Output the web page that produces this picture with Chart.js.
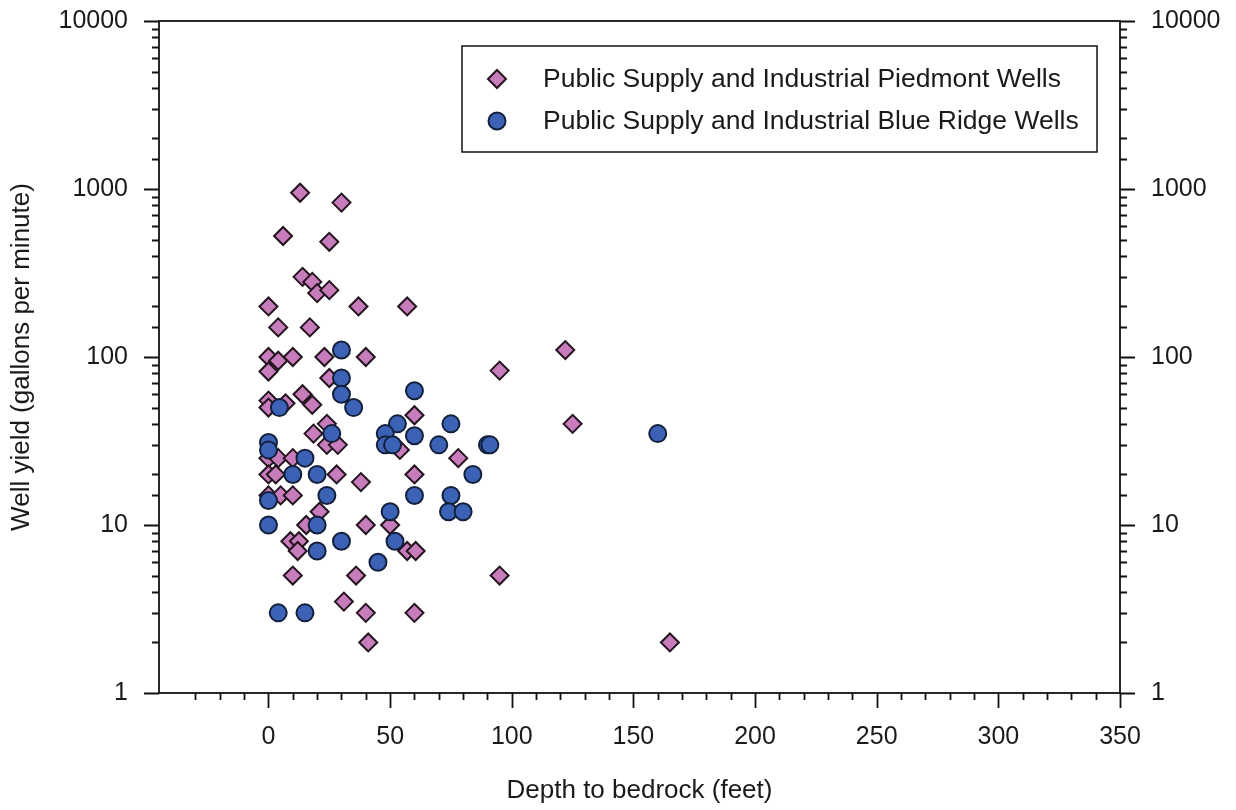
<!DOCTYPE html>
<html>
<head>
<meta charset="utf-8">
<script src="https://cdn.jsdelivr.net/npm/chart.js@4.4.1/dist/chart.umd.min.js"></script>
<style>
  html, body { margin: 0; background: #fff; }
  #wrap { width: 1236px; height: 810px; }
</style>
</head>
<body>
<div id="wrap"><canvas id="chart" width="1236" height="810"></canvas></div>
<script>
// Well yield vs depth to bedrock, log Y axis mirrored on the right.

const piedmontDepth = [13, 30, 6, 25, 14, 18, 20, 25, 0, 37, 57, 4, 17, 0, 4, 10, 23, 40, 0, 25,
  14, 18, 0, 0, 7, 60, 54, 24, 18.5, 24, 28.5, 0, 4, 10, 0, 3, 28, 38, 0, 5, 10, 21, 15.5, 40, 50,
  9, 12.5, 12, 57, 60.5, 10, 36, 31, 40, 60, 41, 122, 95, 125, 78, 60, 95, 165];
const piedmontYield = [950, 830, 525, 485, 300, 280, 240, 250, 200, 200, 200, 150, 150, 100, 95, 100, 100, 100, 82, 75,
  60, 52, 55, 50, 53, 45, 28, 40, 35, 30, 30, 25, 25, 25, 20, 20, 20, 18, 15, 15, 15, 12, 10, 10, 10,
  8, 8, 7, 7, 7, 5, 5, 3.5, 3, 3, 2, 110, 83, 40, 25, 20, 5, 2];

const blueRidgeDepth = [30, 30, 30, 4.5, 35, 60, 53, 75, 48, 26, 60, 48, 51, 70, 90, 91, 160, 0, 0,
  15, 10, 20, 84, 0, 24, 60, 75, 50, 74, 80, 0, 20, 30, 52, 20, 45, 4, 15];
const blueRidgeYield = [110, 75, 60, 50, 50, 63, 40, 40, 35, 35, 34, 30, 30, 30, 30, 30, 35, 31, 28,
  25, 20, 20, 20, 14, 15, 15, 15, 12, 12, 12, 10, 10, 8, 8, 7, 6, 3, 3];

const xLabelValues = [0, 50, 100, 150, 200, 250, 300, 350];
const yLabelValues = [1, 10, 100, 1000, 10000];

const seriesNames = [
  'Public Supply and Industrial Piedmont Wells',
  'Public Supply and Industrial Blue Ridge Wells',
];

const PIED_FILL = '#c77cbb';
const PIED_EDGE = '#24141f';
const BLUE_FILL = '#3c62b6';
const BLUE_EDGE = '#13203c';
const INK = '#1a1a1a';
const FONT = "'Liberation Sans', Arial, sans-serif";

Chart.defaults.font.family = FONT;
Chart.defaults.color = INK;

const toPoints = (xs, ys) => xs.map((x, i) => ({ x, y: ys[i] }));
const isPow10 = v => Math.abs(Math.log10(v) - Math.round(Math.log10(v))) < 1e-9;

// Frame and outward ticks (long at labelled values, short otherwise)
const framePlugin = {
  id: 'frame',
  afterDraw(chart) {
    const { ctx, chartArea: a, scales } = chart;
    ctx.save();
    ctx.strokeStyle = '#111';
    ctx.lineWidth = 1.8;
    ctx.strokeRect(a.left, a.top, a.right - a.left, a.bottom - a.top);
    ctx.beginPath();
    scales.x.ticks.forEach(t => {
      if (t.value % 10 !== 0) return;
      const px = Math.round(scales.x.getPixelForValue(t.value)) + 0.5;
      const len = xLabelValues.includes(t.value) ? 15 : 7;
      ctx.moveTo(px, a.bottom);
      ctx.lineTo(px, a.bottom + len);
    });
    scales.y.ticks.forEach(t => {
      const py = Math.round(scales.y.getPixelForValue(t.value)) + 0.5;
      const len = isPow10(t.value) ? 15 : 7;
      ctx.moveTo(a.left, py);
      ctx.lineTo(a.left - len, py);
      ctx.moveTo(a.right, py);
      ctx.lineTo(a.right + len, py);
    });
    ctx.stroke();
    ctx.restore();
  },
};

// Boxed legend in the upper right of the plot area
const legendPlugin = {
  id: 'boxLegend',
  afterDraw(chart) {
    const { ctx, chartArea: a } = chart;
    const boxW = 635, boxH = 106;
    const bx = a.right - 23 - boxW, by = a.top + 25;
    ctx.save();
    ctx.fillStyle = '#fff';
    ctx.fillRect(bx, by, boxW, boxH);
    ctx.strokeStyle = '#111';
    ctx.lineWidth = 1.5;
    ctx.strokeRect(bx, by, boxW, boxH);
    ctx.font = `26.5px ${FONT}`;
    ctx.textBaseline = 'middle';
    ctx.textAlign = 'left';
    const rows = [by + 33, by + 75];
    chart.data.datasets.forEach(ds => {
      const cy = rows[ds.legendRow];
      ctx.fillStyle = ds.backgroundColor;
      ctx.strokeStyle = ds.borderColor;
      ctx.lineWidth = ds.borderWidth;
      Chart.helpers.drawPoint(ctx, { pointStyle: ds.pointStyle, radius: ds.pointRadius, borderWidth: ds.borderWidth }, bx + 35, cy);
      ctx.fillStyle = INK;
      ctx.fillText(ds.label, bx + 81, cy + 1);
    });
    ctx.restore();
  },
};

const tickFont = { size: 25 };
const hiddenGrid = len => ({ display: true, drawOnChartArea: false, drawTicks: true, tickLength: len, color: 'rgba(0,0,0,0)' });

new Chart(document.getElementById('chart'), {
  type: 'scatter',
  data: {
    datasets: [
      {
        label: seriesNames[1],
        legendRow: 1,
        data: toPoints(blueRidgeDepth, blueRidgeYield),
        pointStyle: 'circle',
        pointRadius: 8.5,
        pointHoverRadius: 8.5,
        backgroundColor: BLUE_FILL,
        borderColor: BLUE_EDGE,
        borderWidth: 2,
        order: 0,
      },
      {
        label: seriesNames[0],
        legendRow: 0,
        data: toPoints(piedmontDepth, piedmontYield),
        pointStyle: 'rectRot',
        pointRadius: 9,
        pointHoverRadius: 9,
        backgroundColor: PIED_FILL,
        borderColor: PIED_EDGE,
        borderWidth: 2,
        order: 1,
      },
    ],
  },
  options: {
    responsive: false,
    animation: false,
    devicePixelRatio: 1,
    layout: { padding: { top: 21, left: 0, right: 0, bottom: 0 } },
    plugins: {
      legend: { display: false },
      tooltip: { enabled: false },
    },
    scales: {
      x: {
        type: 'linear',
        position: 'bottom',
        min: -45,
        max: 350,
        afterFit: s => { s.height = 117; },
        grid: hiddenGrid(15),
        border: { display: false },
        ticks: {
          stepSize: 10,
          autoSkip: false,
          maxRotation: 0,
          padding: 14,
          font: tickFont,
          color: INK,
          callback: v => (xLabelValues.includes(v) ? String(v) : ''),
        },
        title: {
          display: true,
          text: 'Depth to bedrock (feet)',
          font: { size: 26 },
          color: INK,
          padding: { top: 0, bottom: 4 },
        },
      },
      y: {
        type: 'logarithmic',
        position: 'left',
        min: 1,
        max: 10000,
        afterFit: s => { s.width = 159; },
        grid: hiddenGrid(31),
        border: { display: false },
        ticks: {
          autoSkip: false,
          padding: 0,
          font: tickFont,
          color: INK,
          callback: v => (yLabelValues.includes(v) ? String(v) : ''),
        },
        title: {
          display: true,
          text: 'Well yield (gallons per minute)',
          font: { size: 26 },
          color: INK,
          padding: { top: 6, bottom: 0 },
        },
      },
      y2: {
        type: 'logarithmic',
        position: 'right',
        display: true,
        min: 1,
        max: 10000,
        afterFit: s => { s.width = 116; },
        grid: hiddenGrid(31),
        border: { display: false },
        ticks: {
          autoSkip: false,
          padding: 0,
          font: tickFont,
          color: INK,
          callback: v => (yLabelValues.includes(v) ? String(v) : ''),
        },
      },
    },
  },
  plugins: [framePlugin, legendPlugin],
});
</script>
</body>
</html>
